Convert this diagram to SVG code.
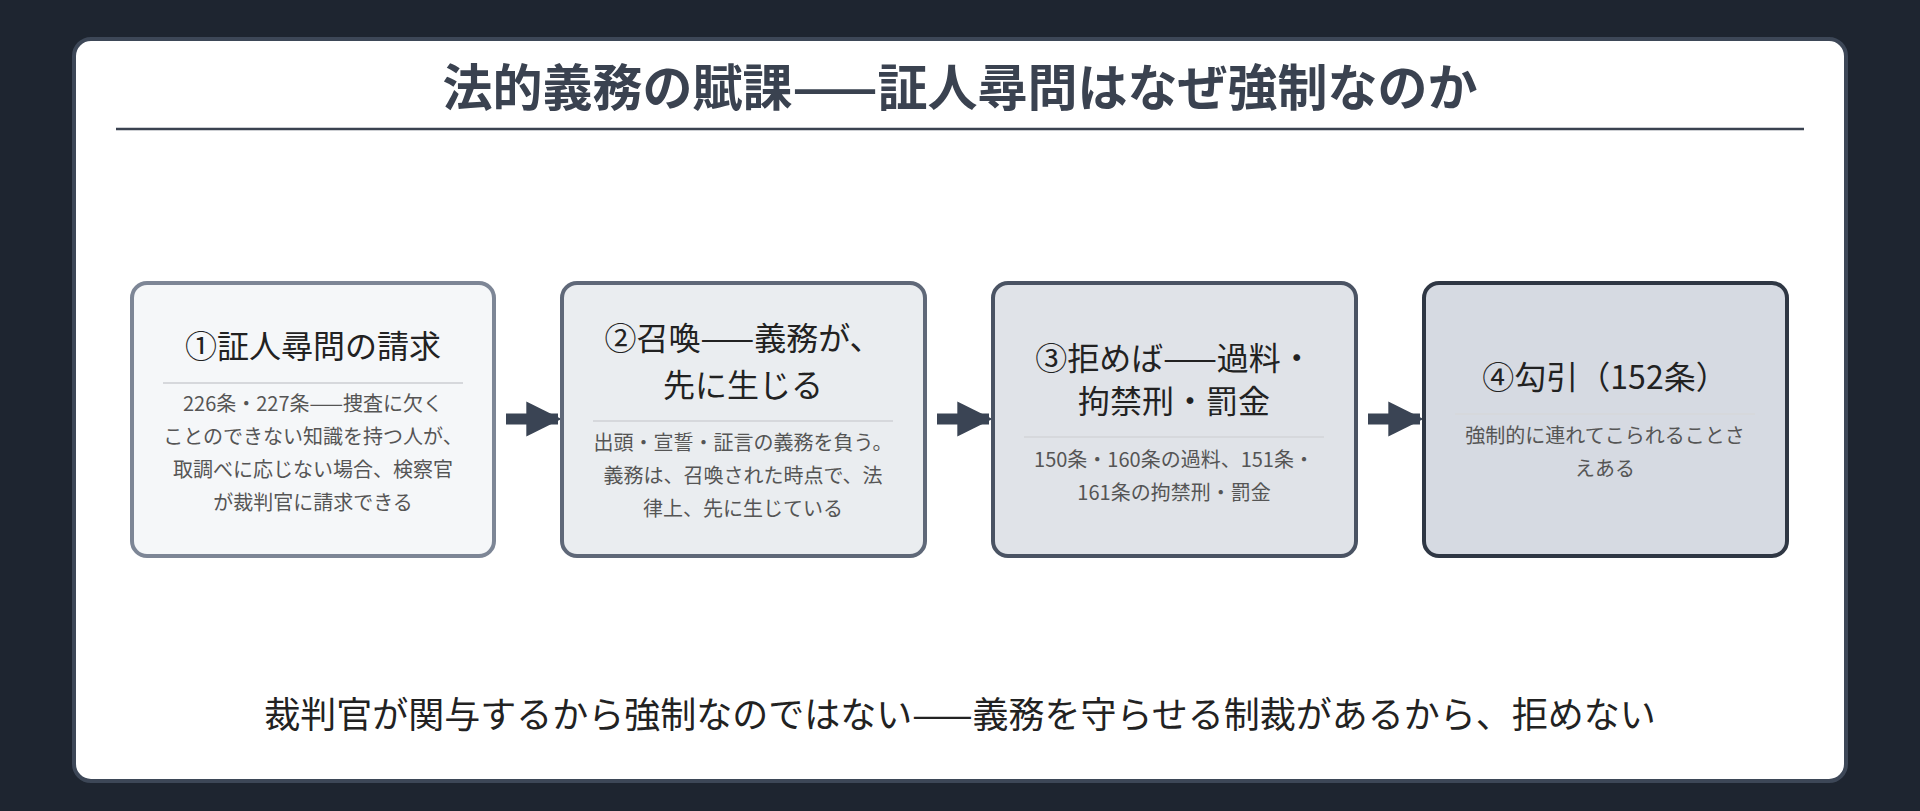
<svg xmlns="http://www.w3.org/2000/svg" width="1920" height="811" viewBox="0 0 1920 811">
<defs><style>
text{font-family:"Noto Sans CJK JP","Liberation Sans",sans-serif;text-anchor:middle}
.t{font-size:50px;font-weight:bold;fill:#3a4250}
.h{font-size:32px;fill:#222}
.d{font-size:20px;fill:#555}
.dv{stroke:#d6d8dc;stroke-width:2}
.bx{stroke-width:4}
</style>
<marker id="ah" viewBox="0 0 10 10" refX="9" refY="5" markerWidth="3.2" markerHeight="3.2" orient="auto"><path d="M0,0L10,5L0,10z" fill="#3a4454"/></marker>
</defs>
<rect width="1920" height="811" fill="#1e2530"/>
<rect x="74" y="39" width="1772" height="742" rx="17" fill="#fff" stroke="#3d4757" stroke-width="4"/>
<text class="t" x="960" y="106">法的義務の賦課——証人尋問はなぜ強制なのか</text>
<line x1="116" y1="129" x2="1804" y2="129" stroke="#3a4250" stroke-width="2.5"/>
<g id="connectors" stroke="#3a4454" stroke-width="11" fill="none" marker-end="url(#ah)">
<line x1="506" y1="419" x2="558" y2="419"/>
<line x1="937" y1="419" x2="989" y2="419"/>
<line x1="1368" y1="419" x2="1420" y2="419"/>
</g>
<g id="n1"><rect class="bx" x="132" y="283" width="362" height="273" rx="15" fill="#f5f7f9" stroke="#7d8696"/>
<text class="h" x="313" y="358">①証人尋問の請求</text>
<line class="dv" x1="163" y1="383" x2="463" y2="383"/>
<text class="d" x="313" y="411">226条・227条——捜査に欠く</text>
<text class="d" x="313" y="444">ことのできない知識を持つ人が、</text>
<text class="d" x="313" y="477">取調べに応じない場合、検察官</text>
<text class="d" x="313" y="510">が裁判官に請求できる</text></g>
<g id="n2"><rect class="bx" x="562" y="283" width="363" height="273" rx="15" fill="#eaedf0" stroke="#5f6878"/>
<text class="h" x="743" y="350">②召喚——義務が、</text>
<text class="h" x="743" y="397">先に生じる</text>
<line class="dv" x1="593" y1="421" x2="893" y2="421"/>
<text class="d" x="743" y="450">出頭・宣誓・証言の義務を負う。</text>
<text class="d" x="743" y="483">義務は、召喚された時点で、法</text>
<text class="d" x="743" y="516">律上、先に生じている</text></g>
<g id="n3"><rect class="bx" x="993" y="283" width="363" height="273" rx="15" fill="#e0e3e8" stroke="#4a5363"/>
<text class="h" x="1174" y="370">③拒めば——過料・</text>
<text class="h" x="1174" y="413">拘禁刑・罰金</text>
<line class="dv" x1="1024" y1="437" x2="1324" y2="437"/>
<text class="d" x="1174" y="467">150条・160条の過料、151条・</text>
<text class="d" x="1174" y="500">161条の拘禁刑・罰金</text></g>
<g id="n4"><rect class="bx" x="1424" y="283" width="363" height="273" rx="15" fill="#d6dae2" stroke="#2f3744"/>
<text class="h" x="1605" y="389">④勾引（152条）</text>
<line class="dv" x1="1455" y1="414" x2="1755" y2="414"/>
<text class="d" x="1605" y="443">強制的に連れてこられることさ</text>
<text class="d" x="1605" y="476">えある</text></g>
<text x="960" y="728" style="font-size:36px;fill:#222">裁判官が関与するから強制なのではない——義務を守らせる制裁があるから、拒めない</text>
</svg>
